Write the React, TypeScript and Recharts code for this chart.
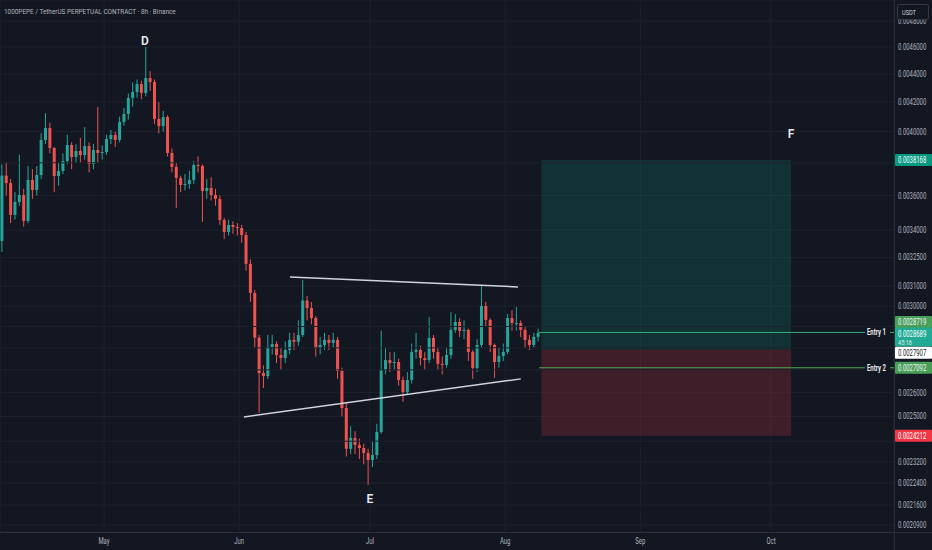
import React from 'react';
import {
  ComposedChart,
  Bar,
  XAxis,
  YAxis,
  CartesianGrid,
  ReferenceArea,
  ReferenceLine,
  ReferenceDot,
} from 'recharts';

// ---------- data (prices in thousandths of USDT, i.e. value × 0.001) ----------
const firstOpen = 3.34;
const closes = [
  3.72, 3.675, 3.487, 3.562, 3.603, 3.452, 3.694, 3.633, 3.724, 3.946,
  4.024, 3.894, 3.718, 3.749, 3.811, 3.913, 3.836, 3.875, 3.849, 3.906,
  3.792, 3.881, 3.862, 3.868, 3.952, 3.978, 3.946, 4.065, 4.118, 4.229,
  4.271, 4.327, 4.264, 4.37, 4.342, 4.085, 4.037, 4.098, 3.862, 3.774,
  3.706, 3.663, 3.669, 3.694, 3.786, 3.78, 3.627, 3.645, 3.603, 3.58,
  3.458, 3.39, 3.429, 3.418, 3.412, 3.373, 3.216, 3.065, 2.847, 2.686,
  2.672, 2.804, 2.818, 2.767, 2.753, 2.79, 2.837, 2.828, 2.86, 3.027,
  2.99, 2.941, 2.799, 2.813, 2.837, 2.823, 2.837, 2.695, 2.535, 2.37,
  2.413, 2.385, 2.373, 2.354, 2.327, 2.346, 2.437, 2.699, 2.744, 2.731,
  2.735, 2.655, 2.603, 2.655, 2.781, 2.79, 2.753, 2.744, 2.846, 2.781,
  2.727, 2.722, 2.767, 2.884, 2.922, 2.879, 2.884, 2.781, 2.708, 2.813,
  3.0, 2.932, 2.813, 2.735, 2.762, 2.781, 2.941, 2.917, 2.917, 2.884,
  2.837, 2.813, 2.851, 2.869,
];
const highs = [
  3.79, 3.8, 3.7, 3.62, 3.85, 3.64, 3.78, 3.76, 3.78, 3.99,
  4.125, 4.06, 3.9, 3.8, 3.86, 3.98, 3.93, 3.92, 3.96, 4.03,
  3.93, 3.92, 4.166, 3.91, 3.98, 4.01, 4.0, 4.1, 4.16, 4.26,
  4.34, 4.36, 4.35, 4.6, 4.42, 4.36, 4.2, 4.14, 4.11, 3.89,
  3.8, 3.72, 3.73, 3.75, 3.81, 3.84, 3.79, 3.7, 3.71, 3.64,
  3.6, 3.47, 3.46, 3.45, 3.44, 3.43, 3.39, 3.24, 3.08, 2.86,
  2.72, 2.86, 2.86, 2.83, 2.8, 2.83, 2.87, 2.87, 2.93, 3.132,
  3.05, 3.02, 2.95, 2.85, 2.87, 2.86, 2.87, 2.85, 2.71, 2.56,
  2.46, 2.44, 2.41, 2.39, 2.37, 2.4, 2.47, 2.88, 2.8, 2.78,
  2.78, 2.75, 2.67, 2.69, 2.82, 2.87, 2.81, 2.78, 2.946, 2.86,
  2.8, 2.76, 2.8, 2.97, 2.96, 2.94, 2.93, 2.89, 2.79, 2.84,
  3.106, 3.02, 2.94, 2.82, 2.8, 2.82, 2.96, 2.98, 2.995, 2.93,
  2.9, 2.86, 2.87, 2.89,
];
const lows = [
  3.28, 3.6, 3.44, 3.46, 3.54, 3.42, 3.44, 3.58, 3.6, 3.7,
  3.92, 3.86, 3.62, 3.66, 3.73, 3.79, 3.76, 3.8, 3.8, 3.82,
  3.74, 3.76, 3.8, 3.82, 3.85, 3.92, 3.9, 3.93, 4.04, 4.08,
  4.17, 4.23, 4.22, 4.24, 4.28, 4.05, 3.99, 4.0, 3.84, 3.74,
  3.527, 3.62, 3.63, 3.64, 3.67, 3.74, 3.446, 3.58, 3.57, 3.54,
  3.43, 3.35, 3.37, 3.38, 3.37, 3.33, 3.18, 3.02, 2.8, 2.515,
  2.62, 2.66, 2.77, 2.73, 2.7, 2.73, 2.77, 2.79, 2.81, 2.85,
  2.93, 2.91, 2.76, 2.77, 2.79, 2.79, 2.8, 2.66, 2.5, 2.34,
  2.35, 2.35, 2.33, 2.31, 2.233, 2.3, 2.33, 2.43, 2.68, 2.69,
  2.7, 2.63, 2.561, 2.59, 2.64, 2.75, 2.72, 2.7, 2.73, 2.75,
  2.7, 2.68, 2.71, 2.75, 2.87, 2.85, 2.84, 2.74, 2.66, 2.69,
  2.8, 2.9, 2.78, 2.665, 2.71, 2.74, 2.77, 2.88, 2.88, 2.85,
  2.8, 2.79, 2.8, 2.83,
];

// x axis: days counted from 7 Apr
const monthTicks = [24, 55, 85, 116, 147, 177];
const monthLabels = ['May', 'Jun', 'Jul', 'Aug', 'Sep', 'Oct'];
const priceTicks = [4.8, 4.6, 4.4, 4.2, 4.0, 3.6, 3.4, 3.25, 3.1, 3.0, 2.6, 2.5, 2.32, 2.24, 2.16, 2.09];
// grid levels whose labels are hidden behind the price tags
const hiddenGridLevels = [3.8, 2.9, 2.8, 2.7, 2.4];

const targetPrice = 3.8168;
const entryPrice = 2.7907;
const stopPrice = 2.4212;
const entry1Price = 2.8719;
const entry2Price = 2.7092;
const lastPrice = 2.8689;
const countdown = '45:16';
const positionStart = 124.3;
const positionEnd = 181.6;
const entryLineStart = 123.8;

const upperTrend = [{ day: 66.65, price: 3.147 }, { day: 118.95, price: 3.096 }];
const lowerTrend = [{ day: 56.1, price: 2.498 }, { day: 119.6, price: 2.66 }];
const waveLabels = [
  { name: 'D', day: 33.4, price: 4.653 },
  { name: 'E', day: 85, price: 2.185 },
  { name: 'F', day: 181.6, price: 3.991 },
];

const X_DOMAIN: [number, number] = [0.14, 205.2];
const Y_DOMAIN: [number, number] = [2.066, 4.971];

// ---------- styles ----------
const BG = '#131722';
const UP = '#26a69a';
const DOWN = '#ef5350';
const GRID = '#1e222d';
const AXIS_TEXT = '#b2b5be';
const FONT = 'Roboto, "Noto Sans", sans-serif';
const SQUEEZE = 0.7;

const data = closes.map((c, i) => ({
  day: i + 0.5,
  open: i === 0 ? firstOpen : closes[i - 1],
  close: c,
  high: highs[i],
  low: lows[i],
  range: [lows[i], highs[i]],
}));

const fmt = (v: number) => (v / 1000).toFixed(7);

const Candle = (props: any) => {
  const { x, y, width, height, payload } = props;
  if (!payload || height == null) return null;
  const { open, close, high, low } = payload;
  const color = close >= open ? UP : DOWN;
  const lh = Math.log(high);
  const span = lh - Math.log(low) || 1;
  const yOf = (v: number) => y + ((lh - Math.log(v)) / span) * height;
  const yo = yOf(open);
  const yc = yOf(close);
  const top = Math.min(yo, yc);
  const bh = Math.max(1, Math.abs(yo - yc));
  const cx = x + width / 2;
  return (
    <g>
      <line x1={cx} x2={cx} y1={y} y2={y + height} stroke={color} strokeWidth={1} />
      <rect x={x} y={top} width={width} height={bh} fill={color} />
    </g>
  );
};

const Narrow = ({ x, y, children, size = 8.5, fill = AXIS_TEXT, anchor = 'start', weight = 400, opacity = 1 }: any) => (
  <g transform={`translate(${x},${y}) scale(${SQUEEZE},1)`}>
    <text x={0} y={0} fontSize={size} fill={fill} fontFamily={FONT} textAnchor={anchor} fontWeight={weight} opacity={opacity}>
      {children}
    </text>
  </g>
);

const YTick = (props: any) => {
  const { x, y, payload } = props;
  return (
    <Narrow x={x + 4} y={y + 3}>
      {fmt(payload.value)}
    </Narrow>
  );
};

const XTick = (props: any) => {
  const { x, y, payload } = props;
  const idx = monthTicks.indexOf(payload.value);
  return (
    <Narrow x={x} y={y + 12} anchor="middle">
      {monthLabels[idx]}
    </Narrow>
  );
};

const AxisTag = (props: any) => {
  const { viewBox, text, sub, bg, fg, dy = 0 } = props;
  if (!viewBox) return null;
  const right = viewBox.x + viewBox.width;
  const yc = viewBox.y + dy;
  const h = sub ? 19 : 12;
  const top = sub ? yc - 5.5 : yc - 6;
  return (
    <g>
      <rect x={right + 1} y={top} width={37} height={h} fill={bg} rx={1} />
      <Narrow x={right + 4} y={top + 9} fill={fg}>
        {text}
      </Narrow>
      {sub ? (
        <Narrow x={right + 4} y={top + 17} fill={fg} size={8} opacity={0.8}>
          {sub}
        </Narrow>
      ) : null}
    </g>
  );
};

const EntryLabel = (props: any) => {
  const { viewBox, name, text, bg, dy = 0 } = props;
  if (!viewBox) return null;
  const right = viewBox.x + viewBox.width;
  const yl = viewBox.y;
  return (
    <g>
      <rect x={right - 29} y={yl - 5} width={25} height={10} fill={BG} />
      <Narrow x={right - 27} y={yl + 3} fill="#e8eaf0" weight={700}>
        {name}
      </Narrow>
      <AxisTag viewBox={{ x: viewBox.x, y: yl, width: viewBox.width }} text={text} bg={bg} fg="#f0f3fa" dy={dy} />
    </g>
  );
};

const WaveLabel = (props: any) => {
  const { viewBox, text } = props;
  if (!viewBox) return null;
  const cx = viewBox.x + viewBox.width / 2;
  const cy = viewBox.y + viewBox.height / 2;
  return (
    <text x={cx} y={cy + 4.5} textAnchor="middle" fontSize={12} fontWeight={600} fill="#e8eaf0" fontFamily={FONT}>
      {text}
    </text>
  );
};

export default function App() {
  return (
    <div style={{ position: 'fixed', left: 0, top: 0, width: 932, height: 550, background: BG, overflow: 'hidden' }}>
      <ComposedChart width={932} height={550} data={data} margin={{ top: 0, right: 0, bottom: 0, left: 0 }}>
        <CartesianGrid stroke={GRID} strokeWidth={1} />
        <XAxis
          dataKey="day"
          type="number"
          domain={X_DOMAIN}
          allowDataOverflow
          ticks={monthTicks}
          tick={<XTick />}
          tickLine={false}
          axisLine={false}
          tickSize={0}
          tickMargin={0}
          height={18}
          interval={0}
        />
        <YAxis
          orientation="right"
          scale="log"
          domain={Y_DOMAIN}
          allowDataOverflow
          ticks={priceTicks}
          tick={<YTick />}
          tickLine={false}
          axisLine={false}
          tickSize={0}
          tickMargin={0}
          width={38}
          interval={0}
        />
        {hiddenGridLevels.map((v) => (
          <ReferenceLine key={v} y={v} stroke={GRID} strokeWidth={1} />
        ))}
        <ReferenceArea
          x1={positionStart}
          x2={positionEnd}
          y1={entryPrice}
          y2={targetPrice}
          fill="#089981"
          fillOpacity={0.2}
          stroke="none"
        />
        <ReferenceArea
          x1={positionStart}
          x2={positionEnd}
          y1={stopPrice}
          y2={entryPrice}
          fill="#f23645"
          fillOpacity={0.2}
          stroke="none"
        />
        <Bar dataKey="range" barSize={3} shape={<Candle />} isAnimationActive={false} />
        <ReferenceLine
          segment={upperTrend.map((p) => ({ x: p.day, y: p.price }))}
          stroke="#d1d4dc"
          strokeWidth={1.5}
        />
        <ReferenceLine
          segment={lowerTrend.map((p) => ({ x: p.day, y: p.price }))}
          stroke="#d1d4dc"
          strokeWidth={1.5}
        />
        <ReferenceLine
          segment={[{ x: entryLineStart, y: entry1Price }, { x: X_DOMAIN[1], y: entry1Price }]}
          stroke="#3cb07a"
          strokeWidth={1}
          label={<EntryLabel name="Entry 1" text={fmt(entry1Price)} bg="#4a9f58" dy={-10.5} />}
        />
        <ReferenceLine
          segment={[{ x: entryLineStart, y: entry2Price }, { x: X_DOMAIN[1], y: entry2Price }]}
          stroke="#4caf50"
          strokeWidth={1}
          label={<EntryLabel name="Entry 2" text={fmt(entry2Price)} bg="#4a9f58" dy={0} />}
        />
        <ReferenceLine
          y={targetPrice}
          stroke="none"
          strokeOpacity={0}
          label={<AxisTag text={fmt(targetPrice)} bg="#089981" fg="#ffffff" />}
        />
        <ReferenceLine
          y={lastPrice}
          stroke="none"
          strokeOpacity={0}
          label={<AxisTag text={fmt(lastPrice)} sub={countdown} bg="#22ab94" fg="#ffffff" />}
        />
        <ReferenceLine
          y={entryPrice}
          stroke="none"
          strokeOpacity={0}
          label={<AxisTag text={fmt(entryPrice)} bg="#ffffff" fg="#131722" dy={3} />}
        />
        <ReferenceLine
          y={stopPrice}
          stroke="none"
          strokeOpacity={0}
          label={<AxisTag text={fmt(stopPrice)} bg="#f23645" fg="#ffffff" />}
        />
        {waveLabels.map((w) => (
          <ReferenceDot
            key={w.name}
            x={w.day}
            y={w.price}
            r={1}
            fill="none"
            stroke="none"
            label={<WaveLabel text={w.name} />}
          />
        ))}
      </ComposedChart>
      <svg
        width={932}
        height={550}
        style={{ position: 'absolute', left: 0, top: 0, pointerEvents: 'none' }}
      >
        <line x1={894.5} x2={894.5} y1={0} y2={550} stroke="#2a2e39" strokeWidth={1} />
        <line x1={0} x2={932} y1={532.5} y2={532.5} stroke="#2a2e39" strokeWidth={1} />
        <g transform={`translate(4,14) scale(0.8,1)`}>
          <text x={0} y={0} fontSize={8} fill={AXIS_TEXT} fontFamily={FONT}>
            1000PEPE / TetherUS PERPETUAL CONTRACT · 8h · Binance
          </text>
        </g>
        <rect x={897.5} y={4.5} width={31} height={15} rx={2} fill={BG} stroke="#363a45" />
        <g transform={`translate(902,15) scale(0.75,1)`}>
          <text x={0} y={0} fontSize={7.5} fill="#d1d4dc" fontFamily={FONT}>
            USDT
          </text>
        </g>
      </svg>
    </div>
  );
}
